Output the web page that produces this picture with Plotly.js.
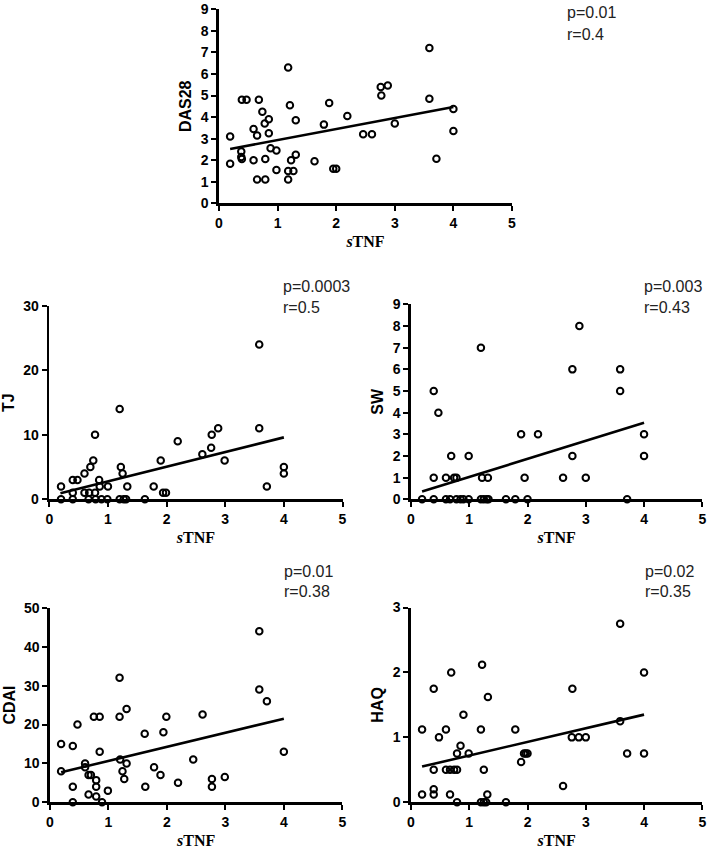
<!DOCTYPE html>
<html>
<head>
<meta charset="utf-8">
<script src="https://cdn.plot.ly/plotly-3.0.1.min.js"></script>
<style>html,body{margin:0;padding:0;background:#fff;}#chart{width:709px;height:851px;}</style>
</head>
<body>
<div id="chart"></div>
<script>
// ---- data ----
const xTicks = [0, 1, 2, 3, 4, 5];

const dasX = [0.19,0.19,0.39,0.47,0.38,0.38,0.39,0.59,0.59,0.68,0.65,0.65,0.74,0.78,0.85,0.85,0.79,0.79,0.88,0.98,0.98,1.18,1.21,1.31,1.31,1.23,1.18,1.27,1.18,1.63,1.79,1.88,1.95,2.0,2.19,2.46,2.61,2.76,2.88,2.77,3.0,3.59,3.59,3.71,4.0,4.0];
const dasY = [3.1,1.83,4.8,4.8,2.4,2.15,2.05,3.45,2.0,4.8,3.15,1.1,4.25,3.7,3.9,3.25,2.05,1.1,2.55,2.45,1.55,6.3,4.55,3.85,2.25,2.0,1.5,1.5,1.1,1.95,3.65,4.65,1.6,1.6,4.05,3.2,3.2,5.4,5.47,5.0,3.7,7.2,4.85,2.07,4.38,3.35];
const dasFitX = [0.19, 4.0];
const dasFitY = [2.52, 4.47];
const dasTicks = [0,1,2,3,4,5,6,7,8,9];

const tjX = [0.2,0.2,0.4,0.48,0.4,0.4,0.6,0.6,0.68,0.7,0.75,0.67,0.78,0.78,0.79,0.89,0.99,0.85,0.86,1.0,1.2,1.22,1.25,1.33,1.2,1.27,1.31,1.63,1.78,1.9,1.94,1.99,2.19,3.58,3.58,2.88,2.77,2.76,2.61,2.99,4.0,4.0,3.71];
const tjY = [2,0,3,3,1,0,4,1,1,5,6,0,10,1,0,0,0,3,2,2,14,5,4,2,0,0,0,0,2,6,1,1,9,24,11,11,10,8,7,6,5,4,2];
const tjFitX = [0.19, 4.0];
const tjFitY = [0.95, 9.6];
const tjTicks = [0,10,20,30];

const swX = [0.19,0.39,0.39,0.39,0.47,0.6,0.6,0.67,0.69,0.74,0.78,0.78,0.85,0.9,0.99,0.99,1.2,1.22,1.32,1.2,1.25,1.3,1.33,1.63,1.79,1.89,1.95,2.0,2.18,2.89,2.77,3.59,3.59,4.0,4.0,2.77,2.61,3.0,3.71];
const swY = [0,5,1,0,4,1,0,0,2,1,1,0,0,0,2,0,7,1,1,0,0,0,0,0,0,3,1,0,3,8,6,6,5,3,2,2,1,1,0];
const swFitX = [0.19, 4.0];
const swFitY = [0.36, 3.53];
const swTicks = [0,1,2,3,4,5,6,7,8,9];

const cdaiX = [0.19,0.19,0.39,0.39,0.39,0.47,0.6,0.6,0.66,0.7,0.66,0.75,0.85,0.79,0.79,0.79,0.85,0.89,0.99,1.19,1.19,1.2,1.24,1.27,1.31,1.31,1.62,1.63,1.78,1.89,1.94,1.99,2.19,2.45,2.77,2.77,2.99,4.0,3.58,3.58,3.71,2.61];
const cdaiY = [15,8,14.5,4,0,20,10,9,7,7,2,22,22,5.7,4,1.5,13,0,3,32,22,11,8,6,24,10,17.6,4,9,7,18,22,5,11,6,4,6.5,13,44,29,26,22.6];
const cdaiFitX = [0.19, 4.0];
const cdaiFitY = [7.7, 21.5];
const cdaiTicks = [0,10,20,30,40,50];

const haqX = [0.19,0.19,0.39,0.39,0.39,0.39,0.48,0.6,0.6,0.67,0.74,0.79,0.67,0.69,0.79,0.79,0.85,0.9,0.99,1.2,1.22,1.25,1.32,1.31,1.2,1.25,1.29,1.63,1.79,1.89,1.94,1.97,2.0,3.59,4.0,2.77,2.76,2.88,3.0,3.59,3.71,4.0,2.61];
const haqY = [1.12,0.12,1.75,0.5,0.2,0.12,1.0,1.12,0.5,0.5,0.5,0.5,0.12,2.0,0,0.75,0.87,1.35,0.75,1.12,2.12,0.5,1.62,0.12,0,0,0,0,1.12,0.62,0.75,0.75,0.75,2.75,2.0,1.75,1.0,1.0,1.0,1.25,0.75,0.75,0.25];
const haqFitX = [0.19, 4.0];
const haqFitY = [0.55, 1.35];
const haqTicks = [0,1,2,3];

const yTitles = ["DAS28", "TJ", "SW", "CDAI", "HAQ"];
const xTitle = "<i>s</i>TNF";
const pTexts = ["p=0.01", "p=0.0003", "p=0.003", "p=0.01", "p=0.02"];
const rTexts = ["r=0.4", "r=0.5", "r=0.43", "r=0.38", "r=0.35"];

// ---- layout geometry (pixels in a 709x851 page) ----
const W = 709, H = 851;
const panels = [
  {xs: dasX, ys: dasY, fx: dasFitX, fy: dasFitY, ticks: dasTicks, px: [219, 512], py: [203.3, 9.3], ann: [565, 13, 35]},
  {xs: tjX, ys: tjY, fx: tjFitX, fy: tjFitY, ticks: tjTicks, px: [49.3, 342.5], py: [499.3, 305.8], ann: [281, 287, 307]},
  {xs: swX, ys: swY, fx: swFitX, fy: swFitY, ticks: swTicks, px: [411, 702.3], py: [499.3, 304.4], ann: [642, 287, 307]},
  {xs: cdaiX, ys: cdaiY, fx: cdaiFitX, fy: cdaiFitY, ticks: cdaiTicks, px: [50, 342.3], py: [802.3, 607.8], ann: [282, 571, 591]},
  {xs: haqX, ys: haqY, fx: haqFitX, fy: haqFitY, ticks: haqTicks, px: [411, 702.3], py: [802.3, 607.5], ann: [643, 571, 591]}
];

const data = [];
const layout = {
  width: W, height: H,
  margin: {l: 0, r: 0, t: 0, b: 0},
  paper_bgcolor: "#ffffff", plot_bgcolor: "#ffffff",
  showlegend: false,
  font: {family: "Liberation Sans, Arial, sans-serif", color: "#000"},
  annotations: []
};

const tickFont = {family: "Liberation Sans, Arial, sans-serif", size: 14, weight: "bold", color: "#000"};

panels.forEach((p, i) => {
  const n = i + 1;
  const xa = n === 1 ? "x" : "x" + n;
  const ya = n === 1 ? "y" : "y" + n;
  const xk = n === 1 ? "xaxis" : "xaxis" + n;
  const yk = n === 1 ? "yaxis" : "yaxis" + n;
  const ymax = p.ticks[p.ticks.length - 1];

  data.push({
    type: "scatter", mode: "markers", x: p.xs, y: p.ys, xaxis: xa, yaxis: ya,
    cliponaxis: false,
    marker: {symbol: "circle-open", size: 6.5, color: "#000", line: {width: 2, color: "#000"}},
    hoverinfo: "skip"
  });
  data.push({
    type: "scatter", mode: "lines", x: p.fx, y: p.fy, xaxis: xa, yaxis: ya,
    line: {color: "#000", width: 2.6}, hoverinfo: "skip"
  });

  layout[xk] = {
    domain: [p.px[0] / W, p.px[1] / W],
    anchor: ya,
    range: [0, 5],
    tickvals: xTicks, ticktext: xTicks.map(String),
    ticks: "outside", ticklen: 5, tickwidth: 2, tickcolor: "#000",
    showline: true, linewidth: 2.6, linecolor: "#000",
    showgrid: false, zeroline: false, layer: "above traces",
    tickfont: tickFont,
    title: {text: xTitle, font: {family: "Liberation Serif, Times New Roman, serif", size: 16, weight: "bold", color: "#000"}, standoff: 6},
    fixedrange: true
  };
  layout[yk] = {
    domain: [(H - p.py[0]) / H, (H - p.py[1]) / H],
    anchor: xa,
    range: [0, ymax],
    tickvals: p.ticks, ticktext: p.ticks.map(String),
    ticks: "outside", ticklen: 5, tickwidth: 2, tickcolor: "#000",
    showline: true, linewidth: 2.6, linecolor: "#000",
    showgrid: false, zeroline: false, layer: "above traces",
    tickfont: tickFont,
    title: {text: yTitles[i], font: {family: "Liberation Sans, Arial, sans-serif", size: 16, weight: "bold", color: "#000"}, standoff: 5},
    fixedrange: true
  };

  layout.annotations.push({
    xref: "paper", yref: "paper", x: p.ann[0] / W, y: (H - p.ann[1]) / H,
    xanchor: "left", yanchor: "middle", showarrow: false, text: pTexts[i],
    font: {family: "Liberation Sans, Arial, sans-serif", size: 16, color: "#222"}
  });
  layout.annotations.push({
    xref: "paper", yref: "paper", x: p.ann[0] / W, y: (H - p.ann[2]) / H,
    xanchor: "left", yanchor: "middle", showarrow: false, text: rTexts[i],
    font: {family: "Liberation Sans, Arial, sans-serif", size: 16, color: "#222"}
  });
});

Plotly.newPlot("chart", data, layout, {staticPlot: true, displayModeBar: false});
</script>
</body>
</html>
